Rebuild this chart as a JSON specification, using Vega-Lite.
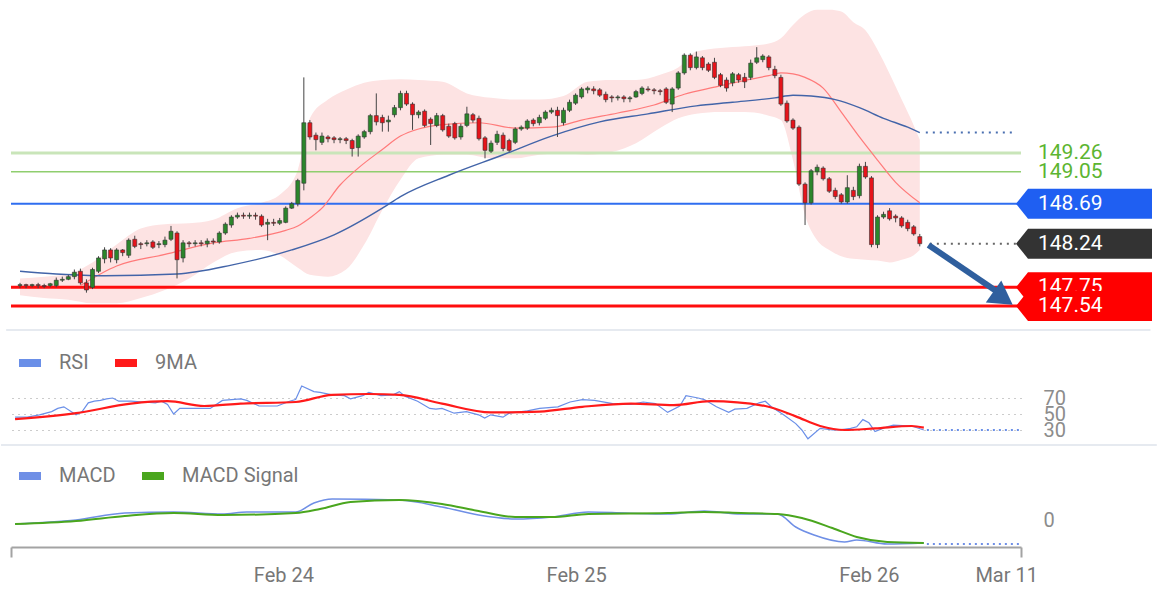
{
"$schema": "https://vega.github.io/schema/vega-lite/v6.json",
"padding": 0,
"background": "white",
"spacing": 0,
"config": {"view": {"stroke": null}, "font": "Roboto"},
"resolve": {"scale": {"x": "independent", "y": "independent", "color": "independent"}},
"datasets": {
"candles": [
{"t":"2025-02-23T02:00","o":147.77,"h":147.80,"l":147.74,"c":147.78},
{"t":"2025-02-23T02:30","o":147.78,"h":147.79,"l":147.74,"c":147.77},
{"t":"2025-02-23T03:00","o":147.77,"h":147.79,"l":147.75,"c":147.78},
{"t":"2025-02-23T03:30","o":147.78,"h":147.80,"l":147.74,"c":147.77},
{"t":"2025-02-23T04:00","o":147.77,"h":147.79,"l":147.74,"c":147.76},
{"t":"2025-02-23T04:30","o":147.77,"h":147.80,"l":147.75,"c":147.79},
{"t":"2025-02-23T05:00","o":147.77,"h":147.86,"l":147.75,"c":147.83},
{"t":"2025-02-23T05:30","o":147.83,"h":147.87,"l":147.81,"c":147.84},
{"t":"2025-02-23T06:00","o":147.84,"h":147.89,"l":147.83,"c":147.87},
{"t":"2025-02-23T06:30","o":147.87,"h":147.95,"l":147.84,"c":147.92},
{"t":"2025-02-23T07:00","o":147.93,"h":147.96,"l":147.78,"c":147.80},
{"t":"2025-02-23T07:30","o":147.80,"h":147.84,"l":147.69,"c":147.72},
{"t":"2025-02-23T08:00","o":147.75,"h":147.97,"l":147.73,"c":147.95},
{"t":"2025-02-23T08:30","o":147.93,"h":148.10,"l":147.91,"c":148.08},
{"t":"2025-02-23T09:00","o":148.07,"h":148.20,"l":148.02,"c":148.17},
{"t":"2025-02-23T09:30","o":148.17,"h":148.19,"l":148.03,"c":148.08},
{"t":"2025-02-23T10:00","o":148.06,"h":148.19,"l":148.02,"c":148.17},
{"t":"2025-02-23T10:30","o":148.17,"h":148.18,"l":148.10,"c":148.14},
{"t":"2025-02-23T11:00","o":148.11,"h":148.30,"l":148.08,"c":148.28},
{"t":"2025-02-23T11:30","o":148.29,"h":148.33,"l":148.19,"c":148.21},
{"t":"2025-02-23T12:00","o":148.24,"h":148.26,"l":148.18,"c":148.23},
{"t":"2025-02-23T12:30","o":148.24,"h":148.28,"l":148.21,"c":148.25},
{"t":"2025-02-23T13:00","o":148.26,"h":148.28,"l":148.18,"c":148.20},
{"t":"2025-02-23T13:30","o":148.23,"h":148.27,"l":148.19,"c":148.24},
{"t":"2025-02-23T14:00","o":148.23,"h":148.32,"l":148.20,"c":148.28},
{"t":"2025-02-23T14:30","o":148.29,"h":148.44,"l":148.27,"c":148.38},
{"t":"2025-02-23T15:00","o":148.36,"h":148.38,"l":147.85,"c":148.06},
{"t":"2025-02-23T15:30","o":148.08,"h":148.28,"l":148.03,"c":148.25},
{"t":"2025-02-23T16:00","o":148.25,"h":148.27,"l":148.20,"c":148.24},
{"t":"2025-02-23T16:30","o":148.24,"h":148.28,"l":148.21,"c":148.25},
{"t":"2025-02-23T17:00","o":148.25,"h":148.28,"l":148.21,"c":148.24},
{"t":"2025-02-23T17:30","o":148.24,"h":148.30,"l":148.20,"c":148.27},
{"t":"2025-02-23T18:00","o":148.27,"h":148.30,"l":148.23,"c":148.26},
{"t":"2025-02-23T18:30","o":148.26,"h":148.38,"l":148.24,"c":148.36},
{"t":"2025-02-23T19:00","o":148.36,"h":148.48,"l":148.34,"c":148.46},
{"t":"2025-02-23T19:30","o":148.45,"h":148.56,"l":148.42,"c":148.54},
{"t":"2025-02-23T20:00","o":148.54,"h":148.59,"l":148.52,"c":148.56},
{"t":"2025-02-23T20:30","o":148.56,"h":148.59,"l":148.52,"c":148.55},
{"t":"2025-02-23T21:00","o":148.55,"h":148.59,"l":148.52,"c":148.56},
{"t":"2025-02-23T21:30","o":148.56,"h":148.59,"l":148.51,"c":148.55},
{"t":"2025-02-23T22:00","o":148.55,"h":148.57,"l":148.43,"c":148.45},
{"t":"2025-02-23T22:30","o":148.46,"h":148.52,"l":148.28,"c":148.48},
{"t":"2025-02-23T23:00","o":148.48,"h":148.52,"l":148.44,"c":148.47},
{"t":"2025-02-23T23:30","o":148.47,"h":148.53,"l":148.45,"c":148.50},
{"t":"2025-02-24T00:00","o":148.48,"h":148.66,"l":148.47,"c":148.64},
{"t":"2025-02-24T00:30","o":148.64,"h":148.71,"l":148.63,"c":148.69},
{"t":"2025-02-24T01:00","o":148.69,"h":148.97,"l":148.66,"c":148.95},
{"t":"2025-02-24T01:30","o":148.92,"h":150.11,"l":148.84,"c":149.60},
{"t":"2025-02-24T02:00","o":149.60,"h":149.63,"l":149.41,"c":149.44},
{"t":"2025-02-24T02:30","o":149.46,"h":149.49,"l":149.29,"c":149.41},
{"t":"2025-02-24T03:00","o":149.38,"h":149.49,"l":149.35,"c":149.45},
{"t":"2025-02-24T03:30","o":149.44,"h":149.46,"l":149.38,"c":149.42},
{"t":"2025-02-24T04:00","o":149.43,"h":149.45,"l":149.37,"c":149.41},
{"t":"2025-02-24T04:30","o":149.41,"h":149.44,"l":149.37,"c":149.42},
{"t":"2025-02-24T05:00","o":149.42,"h":149.44,"l":149.36,"c":149.40},
{"t":"2025-02-24T05:30","o":149.40,"h":149.42,"l":149.22,"c":149.31},
{"t":"2025-02-24T06:00","o":149.32,"h":149.47,"l":149.22,"c":149.45},
{"t":"2025-02-24T06:30","o":149.44,"h":149.52,"l":149.42,"c":149.50},
{"t":"2025-02-24T07:00","o":149.50,"h":149.70,"l":149.47,"c":149.68},
{"t":"2025-02-24T07:30","o":149.68,"h":149.93,"l":149.57,"c":149.61},
{"t":"2025-02-24T08:00","o":149.66,"h":149.69,"l":149.50,"c":149.60},
{"t":"2025-02-24T08:30","o":149.61,"h":149.68,"l":149.50,"c":149.63},
{"t":"2025-02-24T09:00","o":149.69,"h":149.80,"l":149.66,"c":149.77},
{"t":"2025-02-24T09:30","o":149.77,"h":149.96,"l":149.74,"c":149.93},
{"t":"2025-02-24T10:00","o":149.93,"h":149.96,"l":149.79,"c":149.81},
{"t":"2025-02-24T10:30","o":149.81,"h":149.83,"l":149.52,"c":149.69},
{"t":"2025-02-24T11:00","o":149.69,"h":149.74,"l":149.65,"c":149.72},
{"t":"2025-02-24T11:30","o":149.73,"h":149.75,"l":149.55,"c":149.57},
{"t":"2025-02-24T12:00","o":149.64,"h":149.66,"l":149.35,"c":149.59},
{"t":"2025-02-24T12:30","o":149.57,"h":149.71,"l":149.55,"c":149.68},
{"t":"2025-02-24T13:00","o":149.68,"h":149.70,"l":149.50,"c":149.52},
{"t":"2025-02-24T13:30","o":149.56,"h":149.59,"l":149.43,"c":149.45},
{"t":"2025-02-24T14:00","o":149.59,"h":149.61,"l":149.41,"c":149.43},
{"t":"2025-02-24T14:30","o":149.44,"h":149.59,"l":149.41,"c":149.56},
{"t":"2025-02-24T15:00","o":149.57,"h":149.78,"l":149.55,"c":149.70},
{"t":"2025-02-24T15:30","o":149.69,"h":149.71,"l":149.60,"c":149.63},
{"t":"2025-02-24T16:00","o":149.65,"h":149.68,"l":149.40,"c":149.42},
{"t":"2025-02-24T16:30","o":149.43,"h":149.45,"l":149.20,"c":149.29},
{"t":"2025-02-24T17:00","o":149.28,"h":149.40,"l":149.26,"c":149.37},
{"t":"2025-02-24T17:30","o":149.38,"h":149.51,"l":149.35,"c":149.47},
{"t":"2025-02-24T18:00","o":149.46,"h":149.49,"l":149.28,"c":149.31},
{"t":"2025-02-24T18:30","o":149.40,"h":149.42,"l":149.27,"c":149.29},
{"t":"2025-02-24T19:00","o":149.38,"h":149.55,"l":149.36,"c":149.53},
{"t":"2025-02-24T19:30","o":149.53,"h":149.57,"l":149.51,"c":149.55},
{"t":"2025-02-24T20:00","o":149.54,"h":149.64,"l":149.52,"c":149.62},
{"t":"2025-02-24T20:30","o":149.63,"h":149.65,"l":149.56,"c":149.59},
{"t":"2025-02-24T21:00","o":149.60,"h":149.69,"l":149.57,"c":149.66},
{"t":"2025-02-24T21:30","o":149.65,"h":149.74,"l":149.63,"c":149.72},
{"t":"2025-02-24T22:00","o":149.72,"h":149.77,"l":149.70,"c":149.74},
{"t":"2025-02-24T22:30","o":149.74,"h":149.78,"l":149.44,"c":149.68},
{"t":"2025-02-24T23:00","o":149.60,"h":149.77,"l":149.57,"c":149.74},
{"t":"2025-02-24T23:30","o":149.74,"h":149.86,"l":149.72,"c":149.83},
{"t":"2025-02-25T00:00","o":149.82,"h":149.93,"l":149.80,"c":149.91},
{"t":"2025-02-25T00:30","o":149.89,"h":150.00,"l":149.87,"c":149.98},
{"t":"2025-02-25T01:00","o":149.97,"h":150.01,"l":149.93,"c":149.99},
{"t":"2025-02-25T01:30","o":149.98,"h":150.01,"l":149.92,"c":149.96},
{"t":"2025-02-25T02:00","o":149.97,"h":149.99,"l":149.89,"c":149.91},
{"t":"2025-02-25T02:30","o":149.92,"h":149.95,"l":149.83,"c":149.86},
{"t":"2025-02-25T03:00","o":149.89,"h":149.91,"l":149.83,"c":149.88},
{"t":"2025-02-25T03:30","o":149.88,"h":149.91,"l":149.85,"c":149.89},
{"t":"2025-02-25T04:00","o":149.89,"h":149.91,"l":149.83,"c":149.87},
{"t":"2025-02-25T04:30","o":149.87,"h":149.90,"l":149.83,"c":149.88},
{"t":"2025-02-25T05:00","o":149.89,"h":149.97,"l":149.88,"c":149.95},
{"t":"2025-02-25T05:30","o":149.93,"h":150.01,"l":149.91,"c":149.99},
{"t":"2025-02-25T06:00","o":149.98,"h":150.01,"l":149.95,"c":149.97},
{"t":"2025-02-25T06:30","o":149.97,"h":149.99,"l":149.92,"c":149.96},
{"t":"2025-02-25T07:00","o":149.96,"h":149.98,"l":149.91,"c":149.95},
{"t":"2025-02-25T07:30","o":149.98,"h":150.00,"l":149.81,"c":149.83},
{"t":"2025-02-25T08:00","o":149.81,"h":150.00,"l":149.72,"c":149.98},
{"t":"2025-02-25T08:30","o":149.99,"h":150.18,"l":149.97,"c":150.16},
{"t":"2025-02-25T09:00","o":150.16,"h":150.38,"l":150.14,"c":150.36},
{"t":"2025-02-25T09:30","o":150.36,"h":150.38,"l":150.19,"c":150.22},
{"t":"2025-02-25T10:00","o":150.22,"h":150.40,"l":150.20,"c":150.34},
{"t":"2025-02-25T10:30","o":150.33,"h":150.35,"l":150.19,"c":150.22},
{"t":"2025-02-25T11:00","o":150.26,"h":150.28,"l":150.17,"c":150.19},
{"t":"2025-02-25T11:30","o":150.28,"h":150.33,"l":150.09,"c":150.11},
{"t":"2025-02-25T12:00","o":150.14,"h":150.16,"l":150.00,"c":150.02},
{"t":"2025-02-25T12:30","o":150.08,"h":150.11,"l":149.95,"c":149.99},
{"t":"2025-02-25T13:00","o":150.05,"h":150.17,"l":150.01,"c":150.15},
{"t":"2025-02-25T13:30","o":150.14,"h":150.16,"l":150.05,"c":150.08},
{"t":"2025-02-25T14:00","o":150.11,"h":150.16,"l":149.99,"c":150.06},
{"t":"2025-02-25T14:30","o":150.11,"h":150.31,"l":150.08,"c":150.27},
{"t":"2025-02-25T15:00","o":150.28,"h":150.45,"l":150.26,"c":150.33},
{"t":"2025-02-25T15:30","o":150.31,"h":150.37,"l":150.28,"c":150.35},
{"t":"2025-02-25T16:00","o":150.34,"h":150.36,"l":150.19,"c":150.22},
{"t":"2025-02-25T16:30","o":150.20,"h":150.24,"l":150.10,"c":150.13},
{"t":"2025-02-25T17:00","o":150.11,"h":150.14,"l":149.79,"c":149.81},
{"t":"2025-02-25T17:30","o":149.82,"h":149.85,"l":149.60,"c":149.62},
{"t":"2025-02-25T18:00","o":149.63,"h":149.65,"l":149.52,"c":149.54},
{"t":"2025-02-25T18:30","o":149.55,"h":149.57,"l":148.89,"c":148.91},
{"t":"2025-02-25T19:00","o":148.91,"h":148.93,"l":148.45,"c":148.70},
{"t":"2025-02-25T19:30","o":148.70,"h":149.08,"l":148.68,"c":149.06},
{"t":"2025-02-25T20:00","o":149.05,"h":149.13,"l":149.01,"c":149.10},
{"t":"2025-02-25T20:30","o":149.09,"h":149.11,"l":148.95,"c":148.97},
{"t":"2025-02-25T21:00","o":148.97,"h":148.99,"l":148.81,"c":148.83},
{"t":"2025-02-25T21:30","o":148.84,"h":148.87,"l":148.74,"c":148.77},
{"t":"2025-02-25T22:00","o":148.79,"h":148.81,"l":148.69,"c":148.71},
{"t":"2025-02-25T22:30","o":148.71,"h":149.01,"l":148.69,"c":148.87},
{"t":"2025-02-25T23:00","o":148.84,"h":148.88,"l":148.73,"c":148.77},
{"t":"2025-02-25T23:30","o":148.78,"h":149.14,"l":148.75,"c":149.11},
{"t":"2025-02-26T00:00","o":149.11,"h":149.16,"l":148.97,"c":148.99},
{"t":"2025-02-26T00:30","o":148.98,"h":149.00,"l":148.20,"c":148.23},
{"t":"2025-02-26T01:00","o":148.23,"h":148.56,"l":148.19,"c":148.54},
{"t":"2025-02-26T01:30","o":148.54,"h":148.60,"l":148.52,"c":148.57},
{"t":"2025-02-26T02:00","o":148.61,"h":148.64,"l":148.50,"c":148.52},
{"t":"2025-02-26T02:30","o":148.55,"h":148.57,"l":148.48,"c":148.53},
{"t":"2025-02-26T03:00","o":148.53,"h":148.55,"l":148.42,"c":148.44},
{"t":"2025-02-26T03:30","o":148.48,"h":148.51,"l":148.38,"c":148.41},
{"t":"2025-02-26T04:00","o":148.43,"h":148.45,"l":148.33,"c":148.35},
{"t":"2025-02-26T04:30","o":148.32,"h":148.35,"l":148.21,"c":148.24}
],
"band": [
{"t":"2025-02-23T02:00","u":147.85,"l":147.66},
{"t":"2025-02-23T04:00","u":147.87,"l":147.63},
{"t":"2025-02-23T06:00","u":147.90,"l":147.61},
{"t":"2025-02-23T08:00","u":148.03,"l":147.57},
{"t":"2025-02-23T10:00","u":148.23,"l":147.57},
{"t":"2025-02-23T12:00","u":148.41,"l":147.63},
{"t":"2025-02-23T14:00","u":148.46,"l":147.72},
{"t":"2025-02-23T16:00","u":148.47,"l":147.85},
{"t":"2025-02-23T18:00","u":148.51,"l":148.03},
{"t":"2025-02-23T20:00","u":148.64,"l":148.15},
{"t":"2025-02-23T22:00","u":148.70,"l":148.17},
{"t":"2025-02-23T23:30","u":148.79,"l":148.11},
{"t":"2025-02-24T01:00","u":149.07,"l":147.97},
{"t":"2025-02-24T02:00","u":149.65,"l":147.89},
{"t":"2025-02-24T03:30","u":149.86,"l":147.87},
{"t":"2025-02-24T05:00","u":149.97,"l":147.95},
{"t":"2025-02-24T06:30","u":150.05,"l":148.23},
{"t":"2025-02-24T08:00","u":150.08,"l":148.62},
{"t":"2025-02-24T09:30","u":150.09,"l":148.96},
{"t":"2025-02-24T11:00","u":150.08,"l":149.20},
{"t":"2025-02-24T13:00","u":150.06,"l":149.24},
{"t":"2025-02-24T15:00","u":149.93,"l":149.24},
{"t":"2025-02-24T17:00","u":149.88,"l":149.20},
{"t":"2025-02-24T19:00","u":149.86,"l":149.20},
{"t":"2025-02-24T21:00","u":149.86,"l":149.24},
{"t":"2025-02-24T23:00","u":149.90,"l":149.26},
{"t":"2025-02-25T01:00","u":150.06,"l":149.24},
{"t":"2025-02-25T03:00","u":150.08,"l":149.27},
{"t":"2025-02-25T05:00","u":150.08,"l":149.37},
{"t":"2025-02-25T07:00","u":150.14,"l":149.54},
{"t":"2025-02-25T08:30","u":150.22,"l":149.65},
{"t":"2025-02-25T10:00","u":150.40,"l":149.70},
{"t":"2025-02-25T12:00","u":150.44,"l":149.72},
{"t":"2025-02-25T14:00","u":150.46,"l":149.72},
{"t":"2025-02-25T16:00","u":150.49,"l":149.68},
{"t":"2025-02-25T17:00","u":150.55,"l":149.63},
{"t":"2025-02-25T18:00","u":150.70,"l":149.18},
{"t":"2025-02-25T19:00","u":150.82,"l":148.56},
{"t":"2025-02-25T20:00","u":150.87,"l":148.28},
{"t":"2025-02-25T21:00","u":150.87,"l":148.17},
{"t":"2025-02-25T22:00","u":150.85,"l":148.10},
{"t":"2025-02-25T23:00","u":150.73,"l":148.07},
{"t":"2025-02-26T00:00","u":150.64,"l":148.06},
{"t":"2025-02-26T01:00","u":150.42,"l":148.05},
{"t":"2025-02-26T02:00","u":150.15,"l":148.03},
{"t":"2025-02-26T03:00","u":149.86,"l":148.06},
{"t":"2025-02-26T04:00","u":149.57,"l":148.11},
{"t":"2025-02-26T04:30","u":149.41,"l":148.17}
],
"ma20": [
{"t":"2025-02-23T07:00","v":147.77},
{"t":"2025-02-23T10:00","v":147.99},
{"t":"2025-02-23T14:00","v":148.12},
{"t":"2025-02-23T18:00","v":148.25},
{"t":"2025-02-23T21:00","v":148.30},
{"t":"2025-02-24T00:00","v":148.39},
{"t":"2025-02-24T01:00","v":148.44},
{"t":"2025-02-24T02:00","v":148.53},
{"t":"2025-02-24T03:00","v":148.64},
{"t":"2025-02-24T04:30","v":148.90},
{"t":"2025-02-24T06:00","v":149.09},
{"t":"2025-02-24T08:00","v":149.30},
{"t":"2025-02-24T09:30","v":149.45},
{"t":"2025-02-24T11:00","v":149.53},
{"t":"2025-02-24T13:00","v":149.58},
{"t":"2025-02-24T16:00","v":149.60},
{"t":"2025-02-24T19:00","v":149.54},
{"t":"2025-02-24T22:00","v":149.55},
{"t":"2025-02-25T00:30","v":149.63},
{"t":"2025-02-25T03:30","v":149.71},
{"t":"2025-02-25T06:30","v":149.80},
{"t":"2025-02-25T09:00","v":149.92},
{"t":"2025-02-25T11:30","v":150.00},
{"t":"2025-02-25T14:30","v":150.09},
{"t":"2025-02-25T16:00","v":150.13},
{"t":"2025-02-25T17:00","v":150.16},
{"t":"2025-02-25T18:00","v":150.15},
{"t":"2025-02-25T19:00","v":150.11},
{"t":"2025-02-25T20:30","v":149.99},
{"t":"2025-02-25T22:00","v":149.72},
{"t":"2025-02-25T23:30","v":149.44},
{"t":"2025-02-26T01:00","v":149.18},
{"t":"2025-02-26T02:30","v":148.93},
{"t":"2025-02-26T04:30","v":148.70}
],
"ma100": [
{"t":"2025-02-23T02:00","v":147.93},
{"t":"2025-02-23T05:00","v":147.90},
{"t":"2025-02-23T09:00","v":147.88},
{"t":"2025-02-23T15:00","v":147.90},
{"t":"2025-02-23T19:30","v":148.00},
{"t":"2025-02-24T00:30","v":148.17},
{"t":"2025-02-24T04:00","v":148.34},
{"t":"2025-02-24T08:00","v":148.64},
{"t":"2025-02-24T09:30","v":148.77},
{"t":"2025-02-24T13:30","v":149.01},
{"t":"2025-02-24T18:00","v":149.24},
{"t":"2025-02-24T22:00","v":149.45},
{"t":"2025-02-25T02:00","v":149.61},
{"t":"2025-02-25T06:00","v":149.70},
{"t":"2025-02-25T10:00","v":149.79},
{"t":"2025-02-25T13:00","v":149.83},
{"t":"2025-02-25T16:30","v":149.88},
{"t":"2025-02-25T18:00","v":149.91},
{"t":"2025-02-25T19:30","v":149.90},
{"t":"2025-02-25T21:30","v":149.86},
{"t":"2025-02-25T23:30","v":149.77},
{"t":"2025-02-26T01:30","v":149.65},
{"t":"2025-02-26T03:30","v":149.55},
{"t":"2025-02-26T04:30","v":149.49}
],
"rsi": [
{"t":"2025-02-23T02:00","v":46},{"t":"2025-02-23T03:00","v":46},{"t":"2025-02-23T04:00","v":49},
{"t":"2025-02-23T05:00","v":53},{"t":"2025-02-23T05:30","v":57},{"t":"2025-02-23T06:00","v":59},
{"t":"2025-02-23T07:00","v":49},{"t":"2025-02-23T07:30","v":53},{"t":"2025-02-23T08:00","v":64},
{"t":"2025-02-23T08:30","v":66},{"t":"2025-02-23T09:00","v":67},{"t":"2025-02-23T09:30","v":69},
{"t":"2025-02-23T10:00","v":70},{"t":"2025-02-23T10:30","v":66},{"t":"2025-02-23T11:30","v":66},
{"t":"2025-02-23T12:30","v":65},{"t":"2025-02-23T13:30","v":64},{"t":"2025-02-23T14:00","v":66},
{"t":"2025-02-23T14:30","v":62},{"t":"2025-02-23T15:00","v":50},{"t":"2025-02-23T15:30","v":57},
{"t":"2025-02-23T17:00","v":57},{"t":"2025-02-23T18:00","v":57},{"t":"2025-02-23T19:00","v":67},
{"t":"2025-02-23T20:30","v":69},{"t":"2025-02-23T21:00","v":67},{"t":"2025-02-23T22:00","v":60},
{"t":"2025-02-23T22:30","v":60},{"t":"2025-02-23T23:30","v":60},{"t":"2025-02-24T00:30","v":66},
{"t":"2025-02-24T01:00","v":68},{"t":"2025-02-24T01:30","v":85},{"t":"2025-02-24T02:30","v":78},
{"t":"2025-02-24T03:00","v":77},{"t":"2025-02-24T04:00","v":74},{"t":"2025-02-24T05:00","v":73},
{"t":"2025-02-24T05:30","v":69},{"t":"2025-02-24T06:30","v":73},{"t":"2025-02-24T07:00","v":77},
{"t":"2025-02-24T08:00","v":73},{"t":"2025-02-24T09:00","v":74},{"t":"2025-02-24T09:30","v":78},
{"t":"2025-02-24T10:00","v":72},{"t":"2025-02-24T11:00","v":66},{"t":"2025-02-24T12:00","v":57},
{"t":"2025-02-24T12:30","v":56},{"t":"2025-02-24T13:00","v":57},{"t":"2025-02-24T14:00","v":51},
{"t":"2025-02-24T15:00","v":53},{"t":"2025-02-24T16:00","v":49},{"t":"2025-02-24T16:30","v":45},
{"t":"2025-02-24T17:00","v":49},{"t":"2025-02-24T18:00","v":46},{"t":"2025-02-24T18:30","v":51},
{"t":"2025-02-24T20:00","v":54},{"t":"2025-02-24T21:00","v":57},{"t":"2025-02-24T22:30","v":59},
{"t":"2025-02-24T23:30","v":65},{"t":"2025-02-25T00:30","v":68},{"t":"2025-02-25T01:30","v":67},
{"t":"2025-02-25T03:00","v":63},{"t":"2025-02-25T04:30","v":62},{"t":"2025-02-25T05:30","v":65},
{"t":"2025-02-25T06:30","v":63},{"t":"2025-02-25T07:30","v":52},{"t":"2025-02-25T08:30","v":60},
{"t":"2025-02-25T09:00","v":73},{"t":"2025-02-25T10:00","v":70},{"t":"2025-02-25T10:30","v":68},
{"t":"2025-02-25T11:30","v":59},{"t":"2025-02-25T12:30","v":52},{"t":"2025-02-25T13:00","v":56},
{"t":"2025-02-25T14:00","v":57},{"t":"2025-02-25T15:00","v":64},{"t":"2025-02-25T15:30","v":66},
{"t":"2025-02-25T16:00","v":59},{"t":"2025-02-25T17:00","v":49},{"t":"2025-02-25T18:00","v":38},
{"t":"2025-02-25T18:30","v":30},{"t":"2025-02-25T19:00","v":19},{"t":"2025-02-25T20:00","v":32},
{"t":"2025-02-25T21:00","v":30},{"t":"2025-02-25T21:30","v":30},{"t":"2025-02-25T22:30","v":32},
{"t":"2025-02-25T23:00","v":34},{"t":"2025-02-25T23:30","v":43},{"t":"2025-02-26T00:00","v":39},
{"t":"2025-02-26T00:30","v":28},{"t":"2025-02-26T01:30","v":34},{"t":"2025-02-26T02:00","v":36},
{"t":"2025-02-26T03:30","v":35},{"t":"2025-02-26T04:30","v":30}
],
"rsima": [
{"t":"2025-02-23T02:00","v":43.5},{"t":"2025-02-23T07:00","v":51},{"t":"2025-02-23T11:30","v":63},
{"t":"2025-02-23T14:30","v":66},{"t":"2025-02-23T17:30","v":60},{"t":"2025-02-23T20:30","v":63},
{"t":"2025-02-24T01:00","v":65},{"t":"2025-02-24T04:00","v":74},{"t":"2025-02-24T07:00","v":75},
{"t":"2025-02-24T09:30","v":74},{"t":"2025-02-24T13:00","v":63},{"t":"2025-02-24T17:00","v":52},
{"t":"2025-02-24T21:00","v":53},{"t":"2025-02-25T00:30","v":59},{"t":"2025-02-25T04:30","v":63},
{"t":"2025-02-25T08:00","v":61},{"t":"2025-02-25T11:00","v":66},{"t":"2025-02-25T15:30","v":60},
{"t":"2025-02-25T18:00","v":47},{"t":"2025-02-25T20:00","v":35},{"t":"2025-02-25T22:00","v":30},
{"t":"2025-02-26T00:30","v":32},{"t":"2025-02-26T03:30","v":35},{"t":"2025-02-26T04:30","v":33}
],
"macd": [
{"t":"2025-02-23T02:00","v":-0.008},{"t":"2025-02-23T07:00","v":0.0},{"t":"2025-02-23T11:00","v":0.014},
{"t":"2025-02-23T15:00","v":0.016},{"t":"2025-02-23T19:00","v":0.012},{"t":"2025-02-23T21:00","v":0.016},
{"t":"2025-02-24T01:00","v":0.016},{"t":"2025-02-24T02:30","v":0.034},{"t":"2025-02-24T04:00","v":0.042},
{"t":"2025-02-24T09:30","v":0.040},{"t":"2025-02-24T13:00","v":0.026},{"t":"2025-02-24T16:00","v":0.010},
{"t":"2025-02-24T19:00","v":0.002},{"t":"2025-02-24T22:00","v":0.006},{"t":"2025-02-25T01:00","v":0.016},
{"t":"2025-02-25T04:00","v":0.014},{"t":"2025-02-25T07:30","v":0.012},{"t":"2025-02-25T10:30","v":0.018},
{"t":"2025-02-25T13:30","v":0.012},{"t":"2025-02-25T16:30","v":0.012},{"t":"2025-02-25T18:00","v":-0.014},
{"t":"2025-02-25T19:30","v":-0.030},{"t":"2025-02-25T22:00","v":-0.044},{"t":"2025-02-25T23:00","v":-0.040},
{"t":"2025-02-26T01:30","v":-0.048},{"t":"2025-02-26T04:30","v":-0.046}
],
"signal": [
{"t":"2025-02-23T02:00","v":-0.008},{"t":"2025-02-23T07:00","v":-0.002},{"t":"2025-02-23T11:00","v":0.008},
{"t":"2025-02-23T15:00","v":0.014},{"t":"2025-02-23T19:00","v":0.010},{"t":"2025-02-24T01:00","v":0.014},
{"t":"2025-02-24T03:00","v":0.022},{"t":"2025-02-24T05:30","v":0.036},{"t":"2025-02-24T09:30","v":0.040},
{"t":"2025-02-24T13:00","v":0.032},{"t":"2025-02-24T16:00","v":0.018},{"t":"2025-02-24T19:00","v":0.006},
{"t":"2025-02-24T22:00","v":0.006},{"t":"2025-02-25T01:00","v":0.012},{"t":"2025-02-25T07:30","v":0.014},
{"t":"2025-02-25T10:30","v":0.016},{"t":"2025-02-25T13:30","v":0.014},{"t":"2025-02-25T16:30","v":0.012},
{"t":"2025-02-25T18:30","v":0.004},{"t":"2025-02-25T21:00","v":-0.016},{"t":"2025-02-25T23:00","v":-0.034},
{"t":"2025-02-26T01:30","v":-0.044},{"t":"2025-02-26T04:30","v":-0.046}
]
},
"vconcat": [
{
"width": 1010, "height": 330,
"resolve": {"scale": {"color": "independent"}},
"layer": [
{"data": {"values": [{}]},
 "mark": {"type": "rule", "color": "#e6eaf0", "strokeWidth": 2, "clip": false},
 "encoding": {
  "x": {"datum": {"year":2025,"month":2,"date":23,"hours":0,"minutes":51}, "type": "temporal", "scale": {"domain": [{"year":2025,"month":2,"date":23,"hours":1,"minutes":40},{"year":2025,"month":2,"date":26,"hours":12,"minutes":28}], "nice": false}, "axis": null},
  "x2": {"datum": {"year":2025,"month":2,"date":26,"hours":23,"minutes":36}},
  "y": {"datum": 147.27, "type": "quantitative", "scale": {"domain": [147.27, 150.98], "nice": false, "zero": false}, "axis": null}
 }},
{"data": {"name": "band"},
 "mark": {"type": "area", "color": "#fde3e3", "interpolate": "monotone"},
 "encoding": {
  "x": {"field": "t", "type": "temporal", "axis": null},
  "y": {"field": "u", "type": "quantitative", "axis": null},
  "y2": {"field": "l"}
 }},
{"data": {"values": [{}]}, "mark": {"type": "rule", "color": "#c9e5b9", "strokeWidth": 3},
 "encoding": {"y": {"datum": 149.26, "type": "quantitative", "axis": null}}},
{"data": {"values": [{}]}, "mark": {"type": "rule", "color": "#8fce6e", "strokeWidth": 1.5},
 "encoding": {"y": {"datum": 149.05, "type": "quantitative", "axis": null}}},
{"data": {"values": [{}]}, "mark": {"type": "rule", "color": "#2f6ef0", "strokeWidth": 2},
 "encoding": {"y": {"datum": 148.69, "type": "quantitative", "axis": null}}},
{"data": {"values": [{}]}, "mark": {"type": "rule", "color": "#ff0d0d", "strokeWidth": 3},
 "encoding": {"y": {"datum": 147.75, "type": "quantitative", "axis": null}}},
{"data": {"values": [{}]}, "mark": {"type": "rule", "color": "#ff0d0d", "strokeWidth": 3},
 "encoding": {"y": {"datum": 147.54, "type": "quantitative", "axis": null}}},
{"data": {"name": "ma20"},
 "mark": {"type": "line", "color": "#ff7a7a", "strokeWidth": 1.2, "interpolate": "monotone"},
 "encoding": {
  "x": {"field": "t", "type": "temporal", "axis": null},
  "y": {"field": "v", "type": "quantitative", "axis": null}
 }},
{"data": {"name": "ma100"},
 "mark": {"type": "line", "color": "#4264a8", "strokeWidth": 1.4, "interpolate": "monotone"},
 "encoding": {
  "x": {"field": "t", "type": "temporal", "axis": null},
  "y": {"field": "v", "type": "quantitative", "axis": null}
 }},
{"data": {"name": "candles"},
 "mark": {"type": "rule", "color": "#444444", "strokeWidth": 1},
 "encoding": {
  "x": {"field": "t", "type": "temporal", "axis": null},
  "y": {"field": "l", "type": "quantitative", "axis": null},
  "y2": {"field": "h"}
 }},
{"data": {"name": "candles"},
 "mark": {"type": "bar", "size": 4, "stroke": "#333333", "strokeWidth": 0.6},
 "encoding": {
  "x": {"field": "t", "type": "temporal", "axis": null},
  "y": {"field": "o", "type": "quantitative", "axis": null},
  "y2": {"field": "c"},
  "color": {"condition": {"test": "datum.c >= datum.o", "value": "#2b862b"}, "value": "#e6141b"}
 }},
{"data": {"values": [{}]},
 "mark": {"type": "rule", "color": "#4a6fb0", "strokeWidth": 2, "strokeDash": [2, 5]},
 "encoding": {
  "x": {"datum": {"year":2025,"month":2,"date":26,"hours":5,"minutes":0}, "type": "temporal", "axis": null},
  "x2": {"datum": {"year":2025,"month":2,"date":26,"hours":12,"minutes":28}},
  "y": {"datum": 149.49, "type": "quantitative", "axis": null}
 }},
{"data": {"values": [{}]},
 "mark": {"type": "rule", "color": "#666666", "strokeWidth": 2, "strokeDash": [2, 5]},
 "encoding": {
  "x": {"datum": {"year":2025,"month":2,"date":26,"hours":5,"minutes":20}, "type": "temporal", "axis": null},
  "x2": {"datum": {"year":2025,"month":2,"date":26,"hours":12,"minutes":28}},
  "y": {"datum": 148.24, "type": "quantitative", "axis": null}
 }},
{"data": {"values": [{}]},
 "mark": {"type": "rule", "color": "#2f5f9e", "strokeWidth": 6, "clip": false},
 "encoding": {
  "x": {"datum": {"year":2025,"month":2,"date":26,"hours":5,"minutes":13}, "type": "temporal", "axis": null},
  "x2": {"datum": {"year":2025,"month":2,"date":26,"hours":11,"minutes":4}},
  "y": {"datum": 148.226, "type": "quantitative", "axis": null},
  "y2": {"datum": 147.686}
 }},
{"data": {"values": [{}]},
 "mark": {"type": "point", "shape": "triangle-up", "angle": 125, "size": 729, "filled": true, "opacity": 1, "color": "#2f5f9e", "clip": false},
 "encoding": {
  "x": {"datum": {"year":2025,"month":2,"date":26,"hours":11,"minutes":24}, "type": "temporal", "axis": null},
  "y": {"datum": 147.628, "type": "quantitative", "axis": null}
 }},
{"data": {"values": [{"p":148.69,"k":"pp"},{"p":148.24,"k":"last"},{"p":147.75,"k":"s1"}]},
 "mark": {"type": "point", "shape": "M0,0L1.2,-1.5H13.6V1.5H1.2Z", "size": 400, "filled": true, "opacity": 1, "strokeWidth": 0, "clip": false},
 "encoding": {
  "x": {"datum": {"year":2025,"month":2,"date":26,"hours":12,"minutes":28}, "type": "temporal", "axis": null},
  "y": {"field": "p", "type": "quantitative", "axis": null},
  "color": {"field": "k", "type": "nominal", "scale": {"domain": ["pp","last","s1"], "range": ["#1f5ff2","#333333","#ff0000"]}, "legend": null}
 }},
{"data": {"values": [{"p":149.26,"k":"r2"},{"p":149.05,"k":"r1"},{"p":148.69,"k":"pp"},{"p":148.24,"k":"last"},{"p":147.75,"k":"s1"}]},
 "mark": {"type": "text", "align": "left", "baseline": "middle", "dx": 22, "fontSize": 21, "clip": false},
 "encoding": {
  "x": {"datum": {"year":2025,"month":2,"date":26,"hours":12,"minutes":28}, "type": "temporal", "axis": null},
  "y": {"field": "p", "type": "quantitative", "axis": null},
  "text": {"field": "p", "type": "quantitative", "format": ".2f"},
  "color": {"field": "k", "type": "nominal", "scale": {"domain": ["r2","r1","pp","last","s1"], "range": ["#5cb531","#5cb531","#ffffff","#ffffff","#ffffff"]}, "legend": null}
 }},
{"data": {"values": [{"p":147.54}]},
 "mark": {"type": "point", "shape": "M0,0L1.2,-1.5H13.6V1.5H1.2Z", "size": 400, "filled": true, "opacity": 1, "strokeWidth": 0, "color": "#ff0000", "clip": false},
 "encoding": {
  "x": {"datum": {"year":2025,"month":2,"date":26,"hours":12,"minutes":28}, "type": "temporal", "axis": null},
  "y": {"field": "p", "type": "quantitative", "axis": null}
 }},
{"data": {"values": [{"p":147.54}]},
 "mark": {"type": "text", "align": "left", "baseline": "middle", "dx": 22, "fontSize": 21, "color": "#ffffff", "clip": false},
 "encoding": {
  "x": {"datum": {"year":2025,"month":2,"date":26,"hours":12,"minutes":28}, "type": "temporal", "axis": null},
  "y": {"field": "p", "type": "quantitative", "axis": null},
  "text": {"field": "p", "type": "quantitative", "format": ".2f"}
 }}
]
},
{
"width": 1010, "height": 114,
"resolve": {"axis": {"x": "independent", "y": "independent"}},
"layer": [
{"data": {"name": "rsi"},
 "mark": {"type": "line", "strokeWidth": 1.2, "interpolate": "linear"},
 "encoding": {
  "x": {"field": "t", "type": "temporal", "scale": {"domain": [{"year":2025,"month":2,"date":23,"hours":1,"minutes":40},{"year":2025,"month":2,"date":26,"hours":12,"minutes":28}], "nice": false}, "axis": null},
  "y": {"field": "v", "type": "quantitative", "scale": {"domain": [11.25, 153.75], "nice": false, "zero": false},
   "axis": {"orient": "right", "values": [30, 50, 70], "grid": true, "gridDash": [1, 5], "gridColor": "#9a9a9a", "gridWidth": 1.2, "domain": false, "ticks": false, "labelPadding": 22, "labelFontSize": 20, "labelColor": "#8c8c8c", "labelOverlap": false, "labelBound": false, "title": null}},
  "color": {"datum": "RSI", "type": "nominal", "scale": {"domain": ["RSI", "9MA"], "range": ["#6a8fe8", "#ff1a1a"]},
   "legend": {"orient": "none", "legendX": 4, "legendY": 17, "direction": "horizontal", "title": null, "symbolType": "stroke", "symbolSize": 484, "symbolStrokeWidth": 8, "labelFontSize": 20, "labelColor": "#777777", "labelOffset": 14, "columnPadding": 10, "padding": 0}}
 }},
{"data": {"values": [{}]},
 "mark": {"type": "rule", "color": "#e6eaf0", "strokeWidth": 2, "clip": false},
 "encoding": {
  "x": {"datum": {"year":2025,"month":2,"date":23,"hours":0,"minutes":51}, "type": "temporal", "axis": null},
  "x2": {"datum": {"year":2025,"month":2,"date":26,"hours":23,"minutes":36}},
  "y": {"datum": 11.25, "type": "quantitative", "axis": null}
 }},
{"data": {"name": "rsima"},
 "mark": {"type": "line", "strokeWidth": 2.2, "interpolate": "monotone"},
 "encoding": {
  "x": {"field": "t", "type": "temporal", "axis": null},
  "y": {"field": "v", "type": "quantitative", "axis": null},
  "color": {"datum": "9MA", "type": "nominal"}
 }},
{"data": {"values": [{}]},
 "mark": {"type": "rule", "color": "#6a8fe8", "strokeWidth": 2, "strokeDash": [2, 4]},
 "encoding": {
  "x": {"datum": {"year":2025,"month":2,"date":26,"hours":4,"minutes":45}, "type": "temporal", "axis": null},
  "x2": {"datum": {"year":2025,"month":2,"date":26,"hours":12,"minutes":28}},
  "y": {"datum": 30, "type": "quantitative", "axis": null}
 }}
]
},
{
"width": 1010, "height": 101,
"resolve": {"axis": {"x": "independent", "y": "independent"}},
"layer": [
{"data": {"name": "macd"},
 "mark": {"type": "line", "strokeWidth": 1.5, "interpolate": "monotone"},
 "encoding": {
  "x": {"field": "t", "type": "temporal",
   "scale": {"domain": [{"year":2025,"month":2,"date":23,"hours":1,"minutes":40},{"year":2025,"month":2,"date":26,"hours":12,"minutes":28}], "nice": false},
   "axis": {"orient": "bottom", "title": null, "grid": false,
    "values": [{"year":2025,"month":2,"date":23,"hours":1,"minutes":40},{"year":2025,"month":2,"date":24},{"year":2025,"month":2,"date":25},{"year":2025,"month":2,"date":26},{"year":2025,"month":2,"date":26,"hours":11,"minutes":15},{"year":2025,"month":2,"date":26,"hours":12,"minutes":28}],
    "labelExpr": "(datum.value < datetime(2025,1,23,12,0) || datum.value > datetime(2025,1,26,12,0)) ? '' : (datum.value > datetime(2025,1,26,6,0) ? 'Mar 11' : timeFormat(datum.value, '%b %d'))",
    "ticks": true, "tickSize": 10, "tickWidth": 2, "tickColor": "#a3a3a3",
    "tickOpacity": {"condition": {"test": "datum.value < datetime(2025,1,23,12,0) || datum.value > datetime(2025,1,26,12,0)", "value": 1}, "value": 0},
    "domainColor": "#a3a3a3", "domainWidth": 2,
    "labelPadding": 8, "labelFontSize": 20, "labelColor": "#777777", "labelOverlap": false, "labelFlush": false, "labelBound": false}},
  "y": {"field": "v", "type": "quantitative", "scale": {"domain": [-0.054, 0.148], "nice": false, "zero": false},
   "axis": {"orient": "right", "values": [0], "format": "d", "grid": false, "domain": false, "ticks": false, "labelPadding": 22, "labelFontSize": 20, "labelColor": "#8c8c8c", "title": null}},
  "color": {"datum": "MACD", "type": "nominal", "scale": {"domain": ["MACD", "MACD Signal"], "range": ["#6f8fe6", "#4aa61e"]},
   "legend": {"orient": "none", "legendX": 4, "legendY": 15, "direction": "horizontal", "title": null, "symbolType": "stroke", "symbolSize": 484, "symbolStrokeWidth": 8, "labelFontSize": 20, "labelColor": "#777777", "labelOffset": 14, "columnPadding": 10, "padding": 0}}
 }},
{"data": {"name": "signal"},
 "mark": {"type": "line", "strokeWidth": 2, "interpolate": "monotone"},
 "encoding": {
  "x": {"field": "t", "type": "temporal", "axis": null},
  "y": {"field": "v", "type": "quantitative", "axis": null},
  "color": {"datum": "MACD Signal", "type": "nominal"}
 }},
{"data": {"values": [{}]},
 "mark": {"type": "rule", "color": "#6f8fe6", "strokeWidth": 2, "strokeDash": [2, 4]},
 "encoding": {
  "x": {"datum": {"year":2025,"month":2,"date":26,"hours":4,"minutes":45}, "type": "temporal", "axis": null},
  "x2": {"datum": {"year":2025,"month":2,"date":26,"hours":12,"minutes":28}},
  "y": {"datum": -0.048, "type": "quantitative", "axis": null}
 }}
]
}
]
}
